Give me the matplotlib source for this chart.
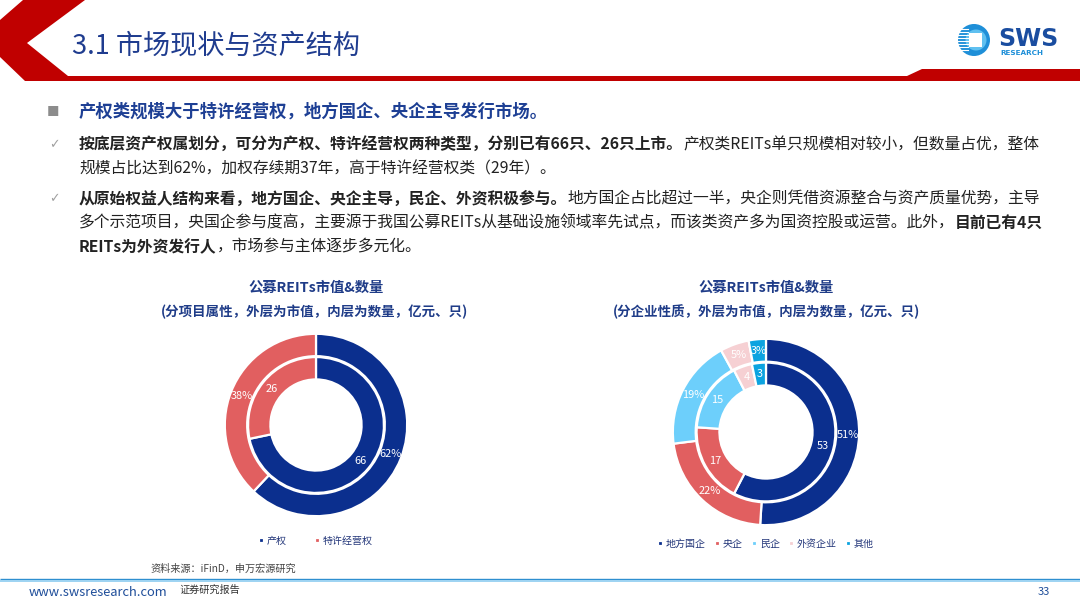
import matplotlib
matplotlib.use("Agg")
import matplotlib.pyplot as plt
import numpy as np
from matplotlib.patches import Polygon, Circle, Rectangle

plt.rcParams['font.family'] = ['Noto Sans CJK SC', 'DejaVu Sans']

# ---------------- data ----------------
left_categories = ['产权', '特许经营权']
left_value_share = [62, 38]      # outer ring, % of market value
left_count = [66, 26]            # inner ring, number of REITs

right_categories = ['地方国企', '央企', '民企', '外资企业', '其他']
right_value_share = [51, 22, 19, 5, 3]
right_count = [53, 17, 15, 4, 3]

left_colors = ['#0B2F8E', '#E15F60']
right_colors = ['#0B2F8E', '#E15F60', '#6DCFFB', '#F6D0D3', '#0CA3E0']

W, H = 1080, 608
fig = plt.figure(figsize=(W / 100, H / 100), dpi=100)
bg = fig.add_axes([0, 0, 1, 1])
bg.set_xlim(0, W)
bg.set_ylim(H, 0)
bg.axis('off')
renderer = fig.canvas.get_renderer()

RED = '#C00000'
NAVY = '#1F3C8F'

# ---------------- header ----------------
bg.add_patch(Polygon([(0, 20), (23, 0), (85, 0), (27, 43), (68, 76), (907, 76),
                      (922, 69), (1080, 69), (1080, 81), (25, 81), (0, 57)],
                     closed=True, facecolor=RED, edgecolor='none'))
bg.text(72, 46, '3.1 市场现状与资产结构', fontsize=19.5, color=NAVY,
        va='center', ha='left')

# logo
bg.add_patch(Circle((974, 40), 16, facecolor='#1E8FD8', edgecolor='none'))
bg.add_patch(Circle((976, 40), 10.5, facecolor='#5FC0F0', edgecolor='none'))
bg.add_patch(Rectangle((969, 33), 13, 14, facecolor='white', edgecolor='none'))
for yy in range(29, 53, 3):
    bg.plot([957, 968], [yy, yy], color='white', lw=0.8)
bg.text(998, 39, 'SWS', fontsize=17, fontweight='bold', color='#1A4DA0',
        va='center', ha='left', family='DejaVu Sans')
bg.text(1000, 53, 'RESEARCH', fontsize=5.2, fontweight='bold', color='#1E8FD8',
        va='center', ha='left', family='DejaVu Sans')


# ---------------- text block ----------------
def runs_line(x, y, runs, size):
    for text, bold, color in runs:
        t = bg.text(x, y, text, fontsize=size, fontweight='bold' if bold else 'normal',
                    color=color, va='center', ha='left')
        bb = t.get_window_extent(renderer)
        x += bb.width


BODY = '#222222'
BODY_SIZE = 11.36
bg.text(53, 112, '■', fontsize=9, color='#8C8C8C', va='center', ha='center')
runs_line(79, 112, [('产权类规模大于特许经营权，地方国企、央企主导发行市场。', True, '#1D3F94')], 12.5)

for yy in (145, 199):
    bg.text(54, yy, '✓', fontsize=9, color='#A0A0A0', va='center', ha='center',
            family='DejaVu Sans')

runs_line(79, 145, [('按底层资产权属划分，可分为产权、特许经营权两种类型，分别已有66只、26只上市。', True, BODY),
                    ('产权类REITs单只规模相对较小，但数量占优，整体', False, BODY)], BODY_SIZE)
runs_line(79, 169, [('规模占比达到62%，加权存续期37年，高于特许经营权类（29年）。', False, BODY)], BODY_SIZE)
runs_line(79, 199, [('从原始权益人结构来看，地方国企、央企主导，民企、外资积极参与。', True, BODY),
                    ('地方国企占比超过一半，央企则凭借资源整合与资产质量优势，主导', False, BODY)], BODY_SIZE)
runs_line(79, 223, [('多个示范项目，央国企参与度高，主要源于我国公募REITs从基础设施领域率先试点，而该类资产多为国资控股或运营。此外，', False, BODY),
                    ('目前已有4只', True, BODY)], BODY_SIZE)
runs_line(79, 247, [('REITs为外资发行人', True, BODY),
                    ('，市场参与主体逐步多元化。', False, BODY)], BODY_SIZE)

# ---------------- chart titles ----------------
TITLE_C = '#1F3C88'
bg.text(316, 288, '公募REITs市值&数量', fontsize=10.3, fontweight='bold', color=TITLE_C,
        ha='center', va='center')
bg.text(314, 312, '(分项目属性，外层为市值，内层为数量，亿元、只)', fontsize=9.7,
        fontweight='bold', color=TITLE_C, ha='center', va='center')
bg.text(766, 288, '公募REITs市值&数量', fontsize=10.3, fontweight='bold', color=TITLE_C,
        ha='center', va='center')
bg.text(766, 312, '(分企业性质，外层为市值，内层为数量，亿元、只)', fontsize=9.7,
        fontweight='bold', color=TITLE_C, ha='center', va='center')


# ---------------- donuts ----------------
def donut(cx, cy, R, outer, inner, colors, cats, legend_y, colspace):
    ax = fig.add_axes([(cx - R) / W, 1 - (cy + R) / H, 2 * R / W, 2 * R / H])
    wp = dict(width=0.245, edgecolor='white', linewidth=1.6)
    w_out, _ = ax.pie(outer, radius=1.0, startangle=90, counterclock=False,
                      colors=colors, wedgeprops=wp)
    w_in, _ = ax.pie(inner, radius=0.745, startangle=90, counterclock=False,
                     colors=colors, wedgeprops=wp)
    ax.set_xlim(-1.02, 1.02)
    ax.set_ylim(-1.02, 1.02)
    ax.set_aspect('equal')
    ax.axis('off')
    for w, v in zip(w_out, outer):
        a = np.deg2rad((w.theta1 + w.theta2) / 2)
        ax.text(0.875 * np.cos(a), 0.875 * np.sin(a), f'{v}%', color='white',
                fontsize=7.9, ha='center', va='center')
    for w, v in zip(w_in, inner):
        a = np.deg2rad((w.theta1 + w.theta2) / 2)
        ax.text(0.625 * np.cos(a), 0.625 * np.sin(a), f'{v}', color='white',
                fontsize=7.9, ha='center', va='center')
    fig.legend(w_out, cats, loc='center', bbox_to_anchor=(cx / W, 1 - legend_y / H),
               bbox_transform=fig.transFigure, ncol=len(cats), frameon=False,
               fontsize=7.2, handlelength=0.45, handleheight=0.45, handletextpad=0.35,
               columnspacing=colspace, labelcolor='#24377A')


donut(316, 425, 93, left_value_share, left_count, left_colors, left_categories, 541, 2.8)
donut(766, 432, 95, right_value_share, right_count, right_colors, right_categories, 544, 0.9)

# ---------------- footer ----------------
bg.text(150, 569, '资料来源：iFinD，申万宏源研究', fontsize=7.3, color='#444444',
        ha='left', va='center')
bg.plot([0, W], [578.5, 578.5], color='#2E8FD0', lw=1.0, solid_capstyle='butt')
bg.plot([0, W], [580.5, 580.5], color='#9DD3F2', lw=1.4, solid_capstyle='butt')
bg.text(29, 592, 'www.swsresearch.com', fontsize=9.3, color='#1F4E9A', ha='left', va='center')
bg.text(180, 590, '证券研究报告', fontsize=7.3, color='#333333', ha='left', va='center')
bg.text(1044, 592, '33', fontsize=8, color='#1F4E9A', ha='center', va='center')

fig.savefig('out.png', dpi=100)
